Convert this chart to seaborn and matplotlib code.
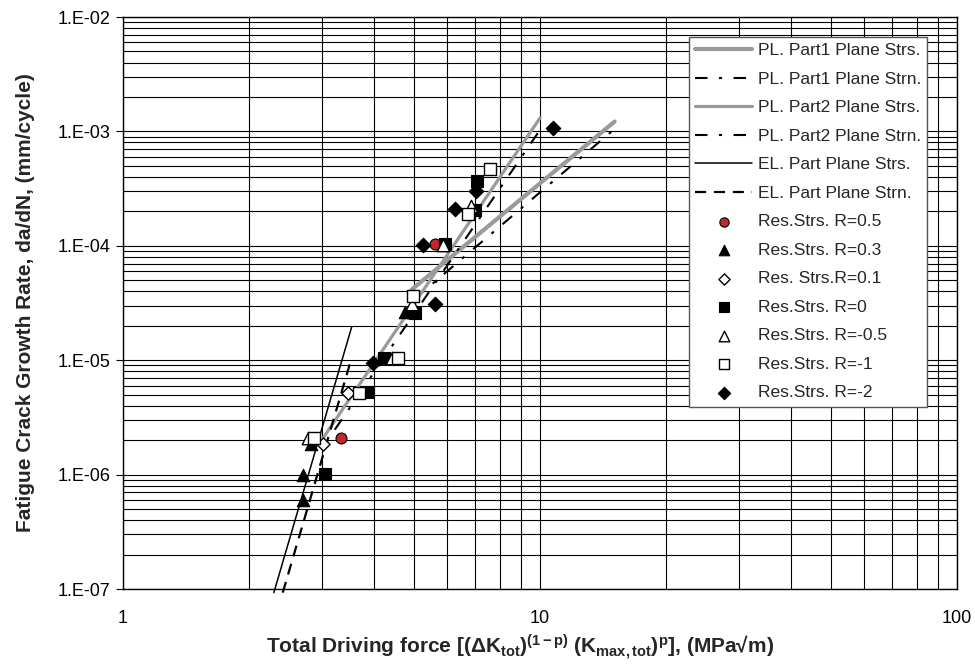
import numpy as np
import pandas as pd
import matplotlib
matplotlib.use("Agg")
import matplotlib.pyplot as plt
import seaborn as sns
from matplotlib.ticker import FixedLocator, FixedFormatter, NullFormatter, LogLocator

# ---------------- data ----------------
# fitted lines (two end points each)
pl1_strs_x = [4.92, 15.1]
pl1_strs_y = [4.13e-5, 1.22e-3]
pl1_strn_x = [5.0, 15.0]
pl1_strn_y = [3.42e-5, 1.03e-3]
pl2_strs_x = [3.02, 10.0]
pl2_strs_y = [2.09e-6, 1.31e-3]
pl2_strn_x = [3.22, 10.0]
pl2_strn_y = [2.47e-6, 1.03e-3]
el_strs_x = [2.30, 3.535]
el_strs_y = [9.3e-8, 1.95e-5]
el_strn_x = [2.416, 3.535]
el_strn_y = [9.3e-8, 1.05e-5]

# test data
r05_x = [3.33, 5.59]
r05_y = [2.09e-6, 1.03e-4]
r03_x = [2.70, 2.70, 2.82, 4.75, 4.96]
r03_y = [1.0e-6, 6.05e-7, 1.87e-6, 2.65e-5, 2.65e-5]
r01_x = [3.02, 3.47]
r01_y = [1.87e-6, 5.2e-6]
r0_x = [3.05, 3.87, 4.23, 5.01, 5.92, 6.98, 7.08]
r0_y = [1.02e-6, 5.31e-6, 1.04e-5, 2.6e-5, 1.03e-4, 2.06e-4, 3.70e-4]
rm05_x = [2.78, 4.41, 4.92, 5.85, 6.85]
rm05_y = [2.1e-6, 1.04e-5, 3.11e-5, 1.02e-4, 2.23e-4]
rm1_x = [2.87, 3.69, 4.57, 4.96, 6.73, 7.57]
rm1_y = [2.09e-6, 5.2e-6, 1.04e-5, 3.66e-5, 1.88e-4, 4.68e-4]
rm2_x = [3.98, 5.60, 5.25, 6.27, 7.02, 10.75]
rm2_y = [9.46e-6, 3.11e-5, 1.02e-4, 2.09e-4, 3.02e-4, 1.07e-3]

y_ticks = [1e-7, 1e-6, 1e-5, 1e-4, 1e-3, 1e-2]
y_tick_labels = ["1.E-07", "1.E-06", "1.E-05", "1.E-04", "1.E-03", "1.E-02"]
x_ticks = [1, 10, 100]
x_tick_labels = ["1", "10", "100"]

line_labels = ["PL. Part1 Plane Strs.", "PL. Part1 Plane Strn.",
               "PL. Part2 Plane Strs.", "PL. Part2 Plane Strn.",
               "EL. Part Plane Strs.", "EL. Part Plane Strn."]
marker_labels = ["Res.Strs. R=0.5", "Res.Strs. R=0.3", "Res. Strs.R=0.1",
                 "Res.Strs. R=0", "Res.Strs. R=-0.5", "Res.Strs. R=-1",
                 "Res.Strs. R=-2"]

# ---------------- style ----------------
sns.set_theme(style="white")
plt.rcParams['font.family'] = ['Liberation Sans', 'DejaVu Sans']
plt.rcParams['mathtext.fontset'] = 'custom'
plt.rcParams['mathtext.rm'] = 'Liberation Sans:bold'
plt.rcParams['mathtext.it'] = 'Liberation Sans:italic:bold'
plt.rcParams['mathtext.bf'] = 'Liberation Sans:bold'
plt.rcParams['mathtext.sf'] = 'Liberation Sans:bold'

fig = plt.figure(figsize=(9.75, 6.67), dpi=100)
ax = fig.add_axes([123/975, 1-589/667, (957-123)/975, (589-17)/667])
ax.set_xscale("log")
ax.set_yscale("log")
ax.set_xlim(1, 100)
ax.set_ylim(1e-7, 1e-2)

grey = "#9a9a9a"
dashdot = (0, (6, 5.5, 1.5, 5.5))

line_specs = [
    (pl1_strs_x, pl1_strs_y, dict(color=grey, lw=3.0, linestyle='-')),
    (pl1_strn_x, pl1_strn_y, dict(color="black", lw=1.5, linestyle=dashdot)),
    (pl2_strs_x, pl2_strs_y, dict(color=grey, lw=2.3, linestyle='-')),
    (pl2_strn_x, pl2_strn_y, dict(color="black", lw=1.5, linestyle=dashdot)),
    (el_strs_x, el_strs_y, dict(color="black", lw=1.1, linestyle='-')),
    (el_strn_x, el_strn_y, dict(color="black", lw=1.6, linestyle=(0, (5, 3.5)))),
]
for (xs, ys, kw), lab in zip(line_specs, line_labels):
    df = pd.DataFrame({"x": xs, "y": ys})
    sns.lineplot(data=df, x="x", y="y", ax=ax, label=lab, sort=False,
                 estimator=None, clip_on=False, zorder=3, **kw)

marker_specs = [
    (r05_x, r05_y, dict(marker='o', s=62, color="#c1272d", edgecolor="black", linewidth=0.8)),
    (r03_x, r03_y, dict(marker='^', s=80, color="black", edgecolor="black", linewidth=0.8)),
    (r01_x, r01_y, dict(marker='D', s=45, color="white", edgecolor="black", linewidth=1.0)),
    (r0_x, r0_y, dict(marker='s', s=70, color="black", edgecolor="black", linewidth=0.8)),
    (rm05_x, rm05_y, dict(marker='^', s=80, color="white", edgecolor="black", linewidth=1.0)),
    (rm1_x, rm1_y, dict(marker='s', s=70, color="white", edgecolor="black", linewidth=1.0)),
    (rm2_x, rm2_y, dict(marker='D', s=55, color="black", edgecolor="black", linewidth=0.8)),
]
for (xs, ys, kw), lab in zip(marker_specs, marker_labels):
    df = pd.DataFrame({"x": xs, "y": ys})
    sns.scatterplot(data=df, x="x", y="y", ax=ax, label=lab, zorder=4, **kw)

# grid
ax.xaxis.set_major_locator(FixedLocator(x_ticks))
ax.xaxis.set_major_formatter(FixedFormatter(x_tick_labels))
ax.xaxis.set_minor_locator(LogLocator(base=10, subs=np.arange(2, 10)))
ax.xaxis.set_minor_formatter(NullFormatter())
ax.yaxis.set_major_locator(FixedLocator(y_ticks))
ax.yaxis.set_major_formatter(FixedFormatter(y_tick_labels))
ax.yaxis.set_minor_locator(LogLocator(base=10, subs=np.arange(2, 10)))
ax.yaxis.set_minor_formatter(NullFormatter())
ax.grid(True, which='both', color='black', linewidth=0.8)
ax.set_axisbelow(True)
ax.tick_params(axis='both', which='major', direction='out', length=5, width=0.8,
               labelsize=13, colors='black', left=True, bottom=False, pad=4)
ax.tick_params(axis='x', which='major', pad=10)
ax.tick_params(axis='both', which='minor', length=0)
for sp in ax.spines.values():
    sp.set_color('black')
    sp.set_linewidth(1.0)

ax.set_xlabel(r'Total Driving force [($\Delta$K$_{\rm tot}$)$^{\rm (1-p)}$ (K$_{\rm max,tot}$)$^{\rm p}$], (MPa' + '\u221am)',
              fontsize=15, fontweight='bold', labelpad=4)
ax.xaxis.label.set_x((520 - 123) / 834)
ax.set_ylabel('Fatigue Crack Growth Rate, da/dN, (mm/cycle)', fontsize=15,
              fontweight='bold', labelpad=16)

handles, labels = ax.get_legend_handles_labels()
leg = ax.legend(handles, labels, loc='upper right', bbox_to_anchor=(0.964, 0.965),
                borderaxespad=0, fontsize=12.5, frameon=True, fancybox=False,
                framealpha=1, edgecolor='#555555', handlelength=3.3,
                handletextpad=0.3, labelspacing=0.77, borderpad=0.35,
                markerscale=0.85)
leg.get_frame().set_linewidth(1.0)
leg.set_zorder(10)

fig.savefig("out.png", dpi=100)
